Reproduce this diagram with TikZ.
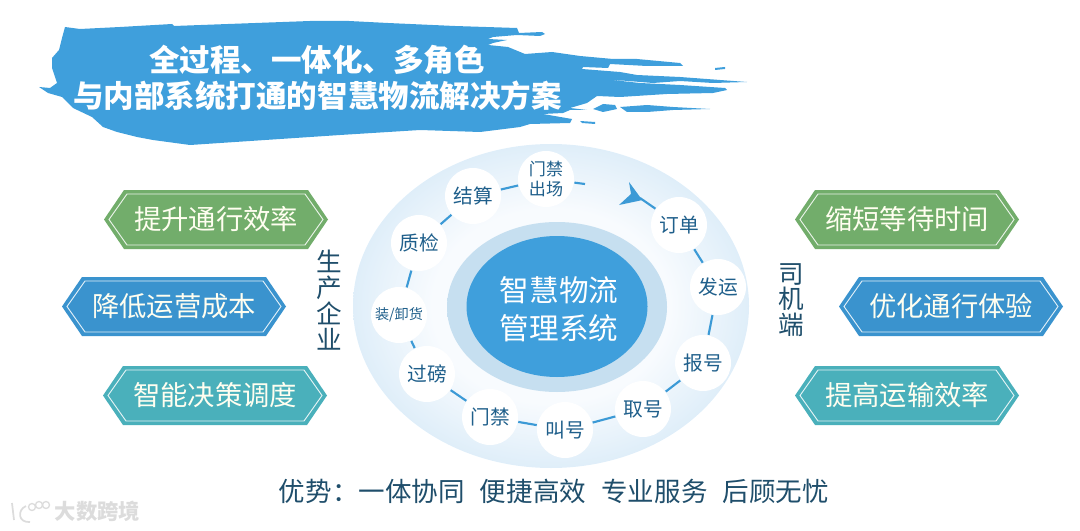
\documentclass[tikz,border=0pt]{standalone}
\usepackage{fontspec}
\setmainfont{Noto Sans CJK SC}
\usepackage{xcolor}
\usetikzlibrary{arrows.meta,positioning,calc,shapes.geometric}

\definecolor{brushblue}{HTML}{3F9FDC}
\definecolor{linkblue}{HTML}{3C9AD6}
\definecolor{coreblue}{HTML}{3F9FDC}
\definecolor{darktext}{HTML}{1F4E6B}
\definecolor{stepblue}{HTML}{1F5F8B}
\definecolor{hexgreen}{HTML}{72AD6B}
\definecolor{hexblue}{HTML}{3A93CE}
\definecolor{hexteal}{HTML}{4AB0BB}
\definecolor{markgray}{HTML}{DCDCDC}
\definecolor{ringA}{HTML}{F8FBFE}
\definecolor{ringB}{HTML}{DFEEF9}
\definecolor{ringC}{HTML}{CBE3F4}
\definecolor{haloA}{HTML}{C6DFF0}
\definecolor{haloB}{HTML}{E0EEF8}

\pgfdeclareradialshading{outerfade}{\pgfpoint{0bp}{0bp}}{%
	color(0bp)=(ringA);
	color(15bp)=(ringA);
	color(25bp)=(ringB);
	color(35bp)=(ringC);
	color(50bp)=(ringC)}
\pgfdeclareradialshading{halofade}{\pgfpoint{0bp}{0bp}}{%
	color(0bp)=(haloA);
	color(28bp)=(haloA);
	color(35bp)=(haloB);
	color(50bp)=(haloB)}

\tikzset{
	stepnode/.style={circle,fill=white,draw=none,minimum size=42pt,inner sep=0pt,outer sep=.5pt,text=stepblue,font=\fontsize{14.8}{17}\selectfont},
	link/.style={linkblue,line width=1.6pt},
	hextext/.style={text=white!94!yellow,font=\fontsize{20.5}{24}\selectfont},
	sidetext/.style={text=darktext,align=center,font=\fontsize{19.2}{19.4}\selectfont}
}

% hexagon label: name, centre x, centre y, colour, text
\newcommand{\hexlabel}[5]{%
	\fill[#4] ({#2-112},#3) -- ({#2-92},{#3-29.5}) -- ({#2+92},{#3-29.5}) -- ({#2+112},#3) -- ({#2+92},{#3+29.5}) -- ({#2-92},{#3+29.5}) -- cycle;
	\draw[white!85!#4,line width=.7pt] ({#2-107},#3) -- ({#2-89},{#3-25.5}) -- ({#2+89},{#3-25.5}) -- ({#2+107},#3) -- ({#2+89},{#3+25.5}) -- ({#2-89},{#3+25.5}) -- cycle;
	\node[hextext] (#1) at (#2,#3) {#5};
}

\begin{document}
\begin{tikzpicture}[x=.75pt,y=-.75pt]
	\useasboundingbox (0,0) rectangle (1080,531);
	
	% brush stroke behind the title
	\fill[brushblue] (65,27) -- (80,29) -- (120,27) -- (172,24) -- (174,26) -- (228,24) -- (310,21) -- (349,21) -- (388,23) -- (455,26) -- (517,28) -- (519,33) -- (542,32) -- (545,34) -- (540,36) -- (517,35) -- (493,37) -- (488,39) -- (507,40) -- (493,43) -- (488,45) -- (508,47) -- (525,54) -- (552,52) -- (580,56) -- (613,59) -- (637,59) -- (680,63) -- (683,66) -- (647,66) -- (610,64) -- (608,68) -- (583,67) -- (582,69) -- (620,72) -- (637,75) -- (680,77) -- (747,82) -- (713,83) -- (680,81) -- (653,83) -- (603,79) -- (640,83) -- (680,85) -- (725,88) -- (727,90) -- (713,93) -- (667,94) -- (620,97) -- (597,96) -- (587,103) -- (570,108) -- (587,110) -- (570,110) -- (563,113) -- (543,114) -- (572,119) -- (570,123) -- (530,124) -- (520,127) -- (480,132) -- (420,130) -- (340,135) -- (250,141) -- (190,145) -- (153,140) -- (137,137) -- (117,132) -- (103,127) -- (92,117) -- (73,108) -- (62,97) -- (48,93) -- (39,87) -- (50,88) -- (57,83) -- (52,68) -- (52,58) -- (59,50) -- (62,38) -- cycle;
	\fill[brushblue] (593,109) -- (603,104) -- (615,105) -- (617,109) -- (603,112) -- cycle;
	\fill[brushblue] (620,107) -- (647,105) -- (673,107) -- (710,109) -- (673,110) -- (647,112) -- (627,112) -- cycle;
	\fill[brushblue] (715,68) -- (725,67) -- (725,69) -- (715,70) -- cycle;
	\fill[brushblue] (580,121) -- (595,122) -- (595,124) -- (582,123) -- cycle;
	
	\node[text=white,font=\fontsize{22.9}{27}\bfseries\selectfont] (titleA) at (317,60) {全过程、一体化、多角色};
	\node[text=white,font=\fontsize{22.9}{27}\bfseries\selectfont] (titleB) at (317.5,96) {与内部系统打通的智慧物流解决方案};
	
	% hexagon labels
	\hexlabel{leftA}{216}{219.5}{hexgreen}{提升通行效率}
	\hexlabel{leftB}{174}{306.5}{hexblue}{降低运营成本}
	\hexlabel{leftC}{215}{395.5}{hexteal}{智能决策调度}
	\hexlabel{rightA}{907}{219.5}{hexgreen}{缩短等待时间}
	\hexlabel{rightB}{951}{306.5}{hexblue}{优化通行体验}
	\hexlabel{rightC}{907}{395.5}{hexteal}{提高运输效率}
	
	\node[sidetext] (producer) at (329,300) {生\\产\\企\\业};
	\node[sidetext] (driver) at (791,300) {司\\机\\端};
	
	% rings
	\shade[shading=outerfade] (551,306) ellipse (198 and 162);
	\shade[shading=halofade] (557,307) ellipse (110 and 85);
	\fill[coreblue] (557,306.5) ellipse (90.5 and 70.5);
	\node[text=white,align=center,font=\fontsize{22.2}{28.5}\selectfont] (core) at (559,309) {智慧物流\\管理系统};
	
	% process steps
	\node[stepnode,font=\fontsize{12.8}{15.5}\selectfont,align=center] (exit) at (546,179) {门禁\\出场};
	\node[stepnode] (settle) at (473,196) {结算};
	\node[stepnode] (check) at (419,243) {质检};
	\node[stepnode,font=\fontsize{10.6}{13}\selectfont] (load) at (399,315) {装/卸货};
	\node[stepnode] (weigh) at (427,374) {过磅};
	\node[stepnode] (gate) at (490,417) {门禁};
	\node[stepnode] (call) at (565,430) {叫号};
	\node[stepnode] (ticket) at (643,409) {取号};
	\node[stepnode] (report) at (703,363) {报号};
	\node[stepnode] (ship) at (718,287) {发运};
	\node[stepnode] (order) at (679,225) {订单};
	
	\coordinate (exitend) at (585,184);
	\coordinate (arrowend) at (640,198);
	
	\draw[link] (order) -- (ship);
	\draw[link] (ship) -- (report);
	\draw[link] (report) -- (ticket);
	\draw[link] (ticket) -- (call);
	\draw[link] (call) -- (gate);
	\draw[link] (gate) -- (weigh);
	\draw[link] (weigh) -- (load);
	\draw[link] (load) -- (check);
	\draw[link] (check) -- (settle);
	\draw[link] (settle) -- (exit);
	\draw[link] (exit) -- (exitend);
	\draw[link] (arrowend) -- (order);
	
	% arrow head on the ring
	\fill[linkblue] (629,182) -- (640,197) -- (642,200) -- (638,201) -- (619,205) -- (631,194) -- cycle;
	
	\node[text=darktext,font=\fontsize{19.9}{24}\selectfont] (advantage) at (554,491) {优势^^^^ff1a一体协同\hspace{11.5pt}便捷高效\hspace{11.5pt}专业服务\hspace{11.5pt}后顾无忧};
	
	% watermark
	\draw[markgray,line width=1.3pt] (12,503) -- (14,520);
	\draw[markgray,line width=1.3pt] (26,506) .. controls (17,510) and (18,523) .. (30,522);
	\draw[markgray,line width=1pt] (32,507) circle (3.5);
	\draw[markgray,line width=1pt] (39,505) circle (3.5);
	\draw[markgray,line width=1pt] (46,505) circle (3.5);
	\node[text=markgray,font=\fontsize{16}{18}\bfseries\selectfont] (mark) at (97.5,511) {大数跨境};
\end{tikzpicture}
\end{document}
